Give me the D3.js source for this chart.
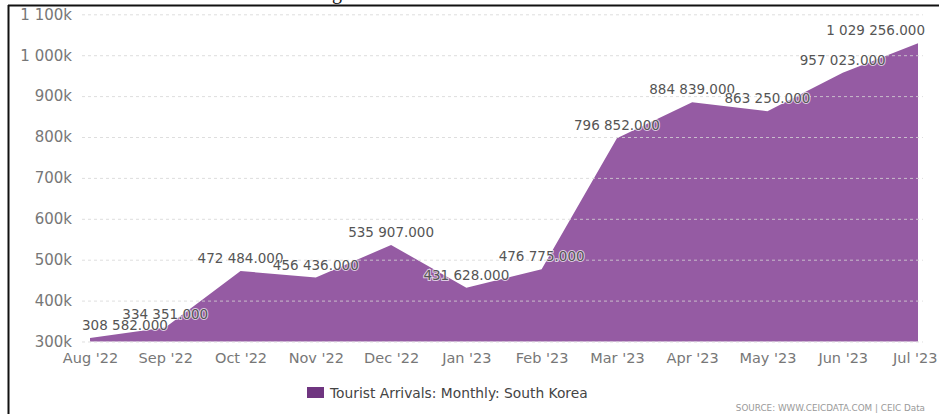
<!DOCTYPE html>
<html>
<head>
<meta charset="utf-8">
<script src="https://cdn.jsdelivr.net/npm/d3@7"></script>
<style>
  body { margin: 0; background: #fff; }
  svg { display: block; }
</style>
</head>
<body>
<div id="chart"></div>
<script>
// monthly tourist arrivals, South Korea
const months = ["Aug '22", "Sep '22", "Oct '22", "Nov '22", "Dec '22", "Jan '23",
                "Feb '23", "Mar '23", "Apr '23", "May '23", "Jun '23", "Jul '23"];
const arrivals = [308582, 334351, 472484, 456436, 535907, 431628,
                  476775, 796852, 884839, 863250, 957023, 1029256];
const yTicks = [300000, 400000, 500000, 600000, 700000, 800000, 900000, 1000000, 1100000];
const seriesName = "Tourist Arrivals: Monthly: South Korea";
const sourceText = "SOURCE: WWW.CEICDATA.COM | CEIC Data";

const width = 939, height = 414;
const plot = {left: 82, right: 923, top: 14.3, bottom: 341.5};

const locale = d3.formatLocale({decimal: ".", thousands: " ", grouping: [3], currency: ["", ""]});
const fmtK = v => locale.format(",")(v / 1000) + "k";
const fmtVal = locale.format(",.3f");

const data = months.map((m, i) => ({month: m, value: arrivals[i]}));

const svg = d3.select("#chart").append("svg")
    .attr("width", width)
    .attr("height", height);

const x = d3.scalePoint()
    .domain(months)
    .range([90, 918]);

const y = d3.scaleLinear()
    .domain([300000, 1100000])
    .range([plot.bottom, plot.top]);

// frame of the screenshot (title above is cut off)
svg.append("text")
    .attr("x", 337)
    .attr("y", -1)
    .attr("text-anchor", "middle")
    .attr("font-family", "Liberation Serif")
    .attr("font-size", 20)
    .attr("fill", "#111")
    .text("g");
svg.append("line")
    .attr("x1", 8).attr("x2", width)
    .attr("y1", 5.5).attr("y2", 5.5)
    .attr("stroke", "#111").attr("stroke-width", 2);
svg.append("line")
    .attr("x1", 8.5).attr("x2", 8.5)
    .attr("y1", 5).attr("y2", height)
    .attr("stroke", "#111").attr("stroke-width", 2);

// area
const area = d3.area()
    .x(d => x(d.month))
    .y0(y(300000))
    .y1(d => y(d.value));

svg.append("path")
    .datum(data)
    .attr("d", area)
    .attr("fill", "#955ba3");

// grid + y labels
const gy = svg.append("g")
    .attr("transform", `translate(${plot.left},0)`)
    .call(d3.axisLeft(y)
        .tickValues(yTicks)
        .tickSize(-(plot.right - plot.left))
        .tickPadding(10)
        .tickFormat(fmtK))
    .call(g => g.select(".domain").remove());

gy.selectAll(".tick line")
    .attr("stroke", "#d6d6d6")
    .attr("stroke-opacity", 0.8)
    .attr("stroke-dasharray", "3,3");
gy.selectAll(".tick text")
    .attr("fill", "#777")
    .attr("font-family", "DejaVu Sans")
    .attr("font-size", 15);

// x labels
const gx = svg.append("g")
    .attr("transform", `translate(0,${plot.bottom})`)
    .call(d3.axisBottom(x).tickSize(0).tickPadding(11))
    .call(g => g.select(".domain").remove());

gx.selectAll(".tick text")
    .attr("fill", "#777")
    .attr("font-family", "DejaVu Sans")
    .attr("font-size", 14.5)
    .each(function(d) {
      const w = this.getComputedTextLength();
      if (x(d) + w / 2 > width - 2) {
        d3.select(this).attr("text-anchor", "end").attr("x", width - 2 - x(d));
      }
    });

// data labels
const labels = svg.append("g")
    .attr("font-family", "DejaVu Sans")
    .attr("font-size", 13.5)
    .selectAll("text")
    .data(data)
    .join("text")
      .attr("x", d => x(d.month))
      .attr("y", d => y(d.value) - 8)
      .attr("text-anchor", "middle")
      .attr("fill", "#555")
      .attr("stroke", "#fff")
      .attr("stroke-width", 2)
      .attr("stroke-opacity", 0.7)
      .attr("paint-order", "stroke")
      .text(d => fmtVal(d.value));

// keep labels inside the plot
labels.each(function(d) {
  const w = this.getComputedTextLength();
  const cx = x(d.month);
  if (cx - w / 2 < plot.left) {
    d3.select(this).attr("text-anchor", "start").attr("x", plot.left);
  } else if (cx + w / 2 > plot.right + 2) {
    d3.select(this).attr("text-anchor", "end").attr("x", plot.right + 2);
  }
});

// legend
const legend = svg.append("g")
    .attr("transform", "translate(307,387)");
legend.append("rect")
    .attr("width", 17)
    .attr("height", 11)
    .attr("fill", "#6f3580");
legend.append("text")
    .attr("x", 23)
    .attr("y", 10.5)
    .attr("font-family", "DejaVu Sans")
    .attr("font-size", 13.8)
    .attr("fill", "#444")
    .text(seriesName);

// source
svg.append("text")
    .attr("x", 925)
    .attr("y", 411)
    .attr("text-anchor", "end")
    .attr("font-family", "DejaVu Sans")
    .attr("font-size", 8.8)
    .attr("fill", "#999")
    .text(sourceText);
</script>
</body>
</html>
